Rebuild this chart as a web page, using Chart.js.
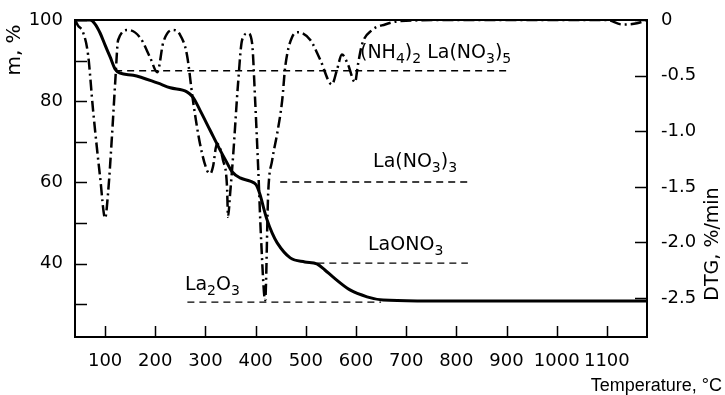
<!DOCTYPE html>
<html>
<head>
<meta charset="utf-8">
<title>TG / DTG of (NH4)2La(NO3)5</title>
<script src="https://cdn.jsdelivr.net/npm/chart.js"></script>
<style>
    html, body { margin: 0; padding: 0; background: #fff; }
    #wrap { width: 725px; height: 395px; position: relative; }
</style>
</head>
<body>
<div id="wrap"><canvas id="tg"></canvas></div>
<script>
// TG curve (mass, %)
const tgTemp = [40, 70, 80, 90, 100, 110, 120, 130, 156, 204, 230, 263, 275, 289, 309, 329, 343, 353, 369, 389, 401, 409, 417, 423, 433, 443, 469, 498, 522, 538, 554, 588, 622, 654, 722, 900, 1180];
const tgMass = [100, 100, 99, 96.8, 93.8, 90.9, 87.9, 86.9, 86.4, 84.5, 83.3, 82.3, 81.0, 77.8, 72.9, 68.0, 64.8, 62.6, 61.1, 60.3, 59.4, 56.9, 53.2, 50.7, 47.5, 45.1, 41.4, 40.4, 39.9, 38.4, 36.7, 33.5, 31.8, 31.0, 30.8, 30.8, 30.8];

// DTG curve (%/min)
const dtgTemp = [40, 46, 56, 66, 76, 90, 100, 106, 114, 120, 126, 146, 170, 190, 204, 216, 234, 249, 263, 275, 289, 303, 310, 315, 323, 335, 343, 345, 349, 355, 365, 373, 385, 393, 399, 405, 411, 419, 425, 433, 443, 453, 459, 473, 485, 509, 529, 552, 562, 572, 584, 598, 604, 612, 632, 658, 688, 800, 1000, 1100, 1130, 1160, 1180];
const dtgRate = [0, -0.05, -0.11, -0.31, -0.81, -1.41, -1.78, -1.55, -1.02, -0.57, -0.18, -0.09, -0.16, -0.34, -0.47, -0.2, -0.09, -0.13, -0.31, -0.72, -1.11, -1.35, -1.38, -1.32, -1.11, -1.26, -1.5, -1.77, -1.57, -1.23, -0.57, -0.18, -0.12, -0.21, -0.72, -1.32, -1.98, -2.52, -1.56, -1.26, -1.02, -0.72, -0.42, -0.15, -0.11, -0.18, -0.36, -0.58, -0.45, -0.31, -0.4, -0.56, -0.4, -0.22, -0.09, -0.04, -0.01, 0, 0, 0, -0.04, -0.03, 0];

// intermediate compositions: [from T, to T, mass level]
const levelNames = ['(NH4)2La(NO3)5', 'La(NO3)3', 'LaONO3', 'La2O3'];
const levelFrom = [120, 449, 523, 264];
const levelTo = [903, 822, 823, 650];
const levelMass = [87.5, 60.1, 40.1, 30.5];

// ticks
const xTicks = [100, 200, 300, 400, 500, 600, 700, 800, 900, 1000, 1100];
const mTicks = [30, 40, 50, 60, 70, 80, 90, 100];
const mLabels = [40, 60, 80, 100];
const dtgTicks = [-2.5, -2, -1.5, -1, -0.5, 0];

const FONT = '"DejaVu Sans", sans-serif';
const FONT2 = '"Liberation Sans", Arial, sans-serif';

function pts(xs, ys) {
    return xs.map((x, i) => ({ x: x, y: ys[i] }));
}

const datasets = [{
    label: 'TG',
    data: pts(tgTemp, tgMass),
    yAxisID: 'y',
    borderColor: '#000',
    borderWidth: 3,
    pointRadius: 0,
    cubicInterpolationMode: 'monotone'
}, {
    label: 'DTG',
    data: pts(dtgTemp, dtgRate),
    yAxisID: 'y1',
    borderColor: '#000',
    borderWidth: 2.5,
    borderDash: [11, 4, 2, 4],
    pointRadius: 0,
    cubicInterpolationMode: 'monotone'
}];
levelNames.forEach((name, i) => {
    datasets.push({
        label: name,
        data: [{ x: levelFrom[i], y: levelMass[i] }, { x: levelTo[i], y: levelMass[i] }],
        yAxisID: 'y',
        borderColor: '#000',
        borderWidth: 1.4,
        borderDash: [7, 5],
        pointRadius: 0
    });
});

// text parts: [string, isSubscript]
const chemParts = [
    [['(NH', 0], ['4', 1], [')', 0], ['2', 1], [' La(NO', 0], ['3', 1], [')', 0], ['5', 1]],
    [['La(NO', 0], ['3', 1], [')', 0], ['3', 1]],
    [['LaONO', 0], ['3', 1]],
    [['La', 0], ['2', 1], ['O', 0], ['3', 1]]
];
// anchor of each label (left, baseline) in data units
const chemAt = [[608, 90.6], [634, 63.8], [624, 43.3], [259, 33.5]];

function drawChem(ctx, parts, x, y) {
    parts.forEach(p => {
        ctx.font = p[1] ? '14px ' + FONT : '19px ' + FONT;
        const dy = p[1] ? 5 : 0;
        ctx.fillText(p[0], x, y + dy);
        x += ctx.measureText(p[0]).width;
    });
}

const framePlugin = {
    id: 'frame',
    afterDraw(chart) {
        const ctx = chart.ctx;
        const a = chart.chartArea;
        const sx = chart.scales.x, sy = chart.scales.y, sy1 = chart.scales.y1;
        ctx.save();
        ctx.strokeStyle = '#000';
        ctx.fillStyle = '#000';
        ctx.lineWidth = 2;
        ctx.beginPath();
        ctx.moveTo(a.left, a.top);
        ctx.lineTo(a.right, a.top);
        ctx.stroke();
        ctx.lineWidth = 1.5;
        ctx.beginPath();
        xTicks.forEach(v => {
            const p = Math.round(sx.getPixelForValue(v)) + 0.5;
            ctx.moveTo(p, a.bottom);
            ctx.lineTo(p, a.bottom - 11);
        });
        mTicks.forEach(v => {
            const p = Math.round(sy.getPixelForValue(v)) + 0.5;
            ctx.moveTo(a.left, p);
            ctx.lineTo(a.left + 12, p);
        });
        dtgTicks.forEach(v => {
            const p = Math.round(sy1.getPixelForValue(v)) + 0.5;
            ctx.moveTo(a.right, p);
            ctx.lineTo(a.right - 12, p);
        });
        ctx.stroke();

        ctx.textBaseline = 'alphabetic';
        ctx.textAlign = 'left';
        chemParts.forEach((parts, i) => {
            drawChem(ctx, parts, sx.getPixelForValue(chemAt[i][0]), sy.getPixelForValue(chemAt[i][1]));
        });

        ctx.textBaseline = 'middle';
        ctx.textAlign = 'center';
        ctx.font = '20px ' + FONT;
        ctx.save();
        ctx.translate(15, 50);
        ctx.rotate(-Math.PI / 2);
        ctx.fillText('m, %', 0, 0);
        ctx.restore();
        ctx.font = '19px ' + FONT;
        ctx.save();
        ctx.translate(713, 244);
        ctx.rotate(-Math.PI / 2);
        ctx.fillText('DTG, %/min', 0, 0);
        ctx.restore();
        ctx.font = '18px ' + FONT2;
        ctx.textAlign = 'right';
        ctx.fillText('Temperature, °C', 722, 386);
        ctx.restore();
    }
};

new Chart(document.getElementById('tg'), {
    type: 'line',
    data: { datasets: datasets },
    options: {
        responsive: true,
        maintainAspectRatio: false,
        animation: false,
        layout: { padding: { top: 20, left: 0, right: 0, bottom: 0 } },
        plugins: { legend: { display: false }, tooltip: { enabled: false } },
        scales: {
            x: {
                type: 'linear',
                min: 40,
                max: 1180,
                afterBuildTicks: s => { s.ticks = xTicks.map(v => ({ value: v })); },
                afterFit: s => { s.height = 58; },
                grid: { display: false },
                border: { display: true, color: '#000', width: 2 },
                ticks: { color: '#000', padding: 6, maxRotation: 0, font: { family: FONT, size: 18 }, callback: v => String(v) }
            },
            y: {
                position: 'left',
                min: 21.9,
                max: 100,
                afterBuildTicks: s => { s.ticks = mTicks.map(v => ({ value: v })); },
                afterFit: s => { s.width = 75; },
                grid: { display: false },
                border: { display: true, color: '#000', width: 2 },
                ticks: {
                    color: '#000', padding: 4, font: { family: FONT, size: 18 },
                    callback: v => mLabels.includes(v) ? String(v) : ''
                }
            },
            y1: {
                position: 'right',
                min: -2.85,
                max: 0,
                afterBuildTicks: s => { s.ticks = dtgTicks.map(v => ({ value: v })); },
                afterFit: s => { s.width = 78; },
                grid: { display: false },
                border: { display: true, color: '#000', width: 2 },
                ticks: {
                    color: '#000', padding: 6, font: { family: FONT, size: 18 },
                    callback: v => v === 0 ? '0' : v.toFixed(1)
                }
            }
        }
    },
    plugins: [framePlugin]
});
</script>
</body>
</html>
